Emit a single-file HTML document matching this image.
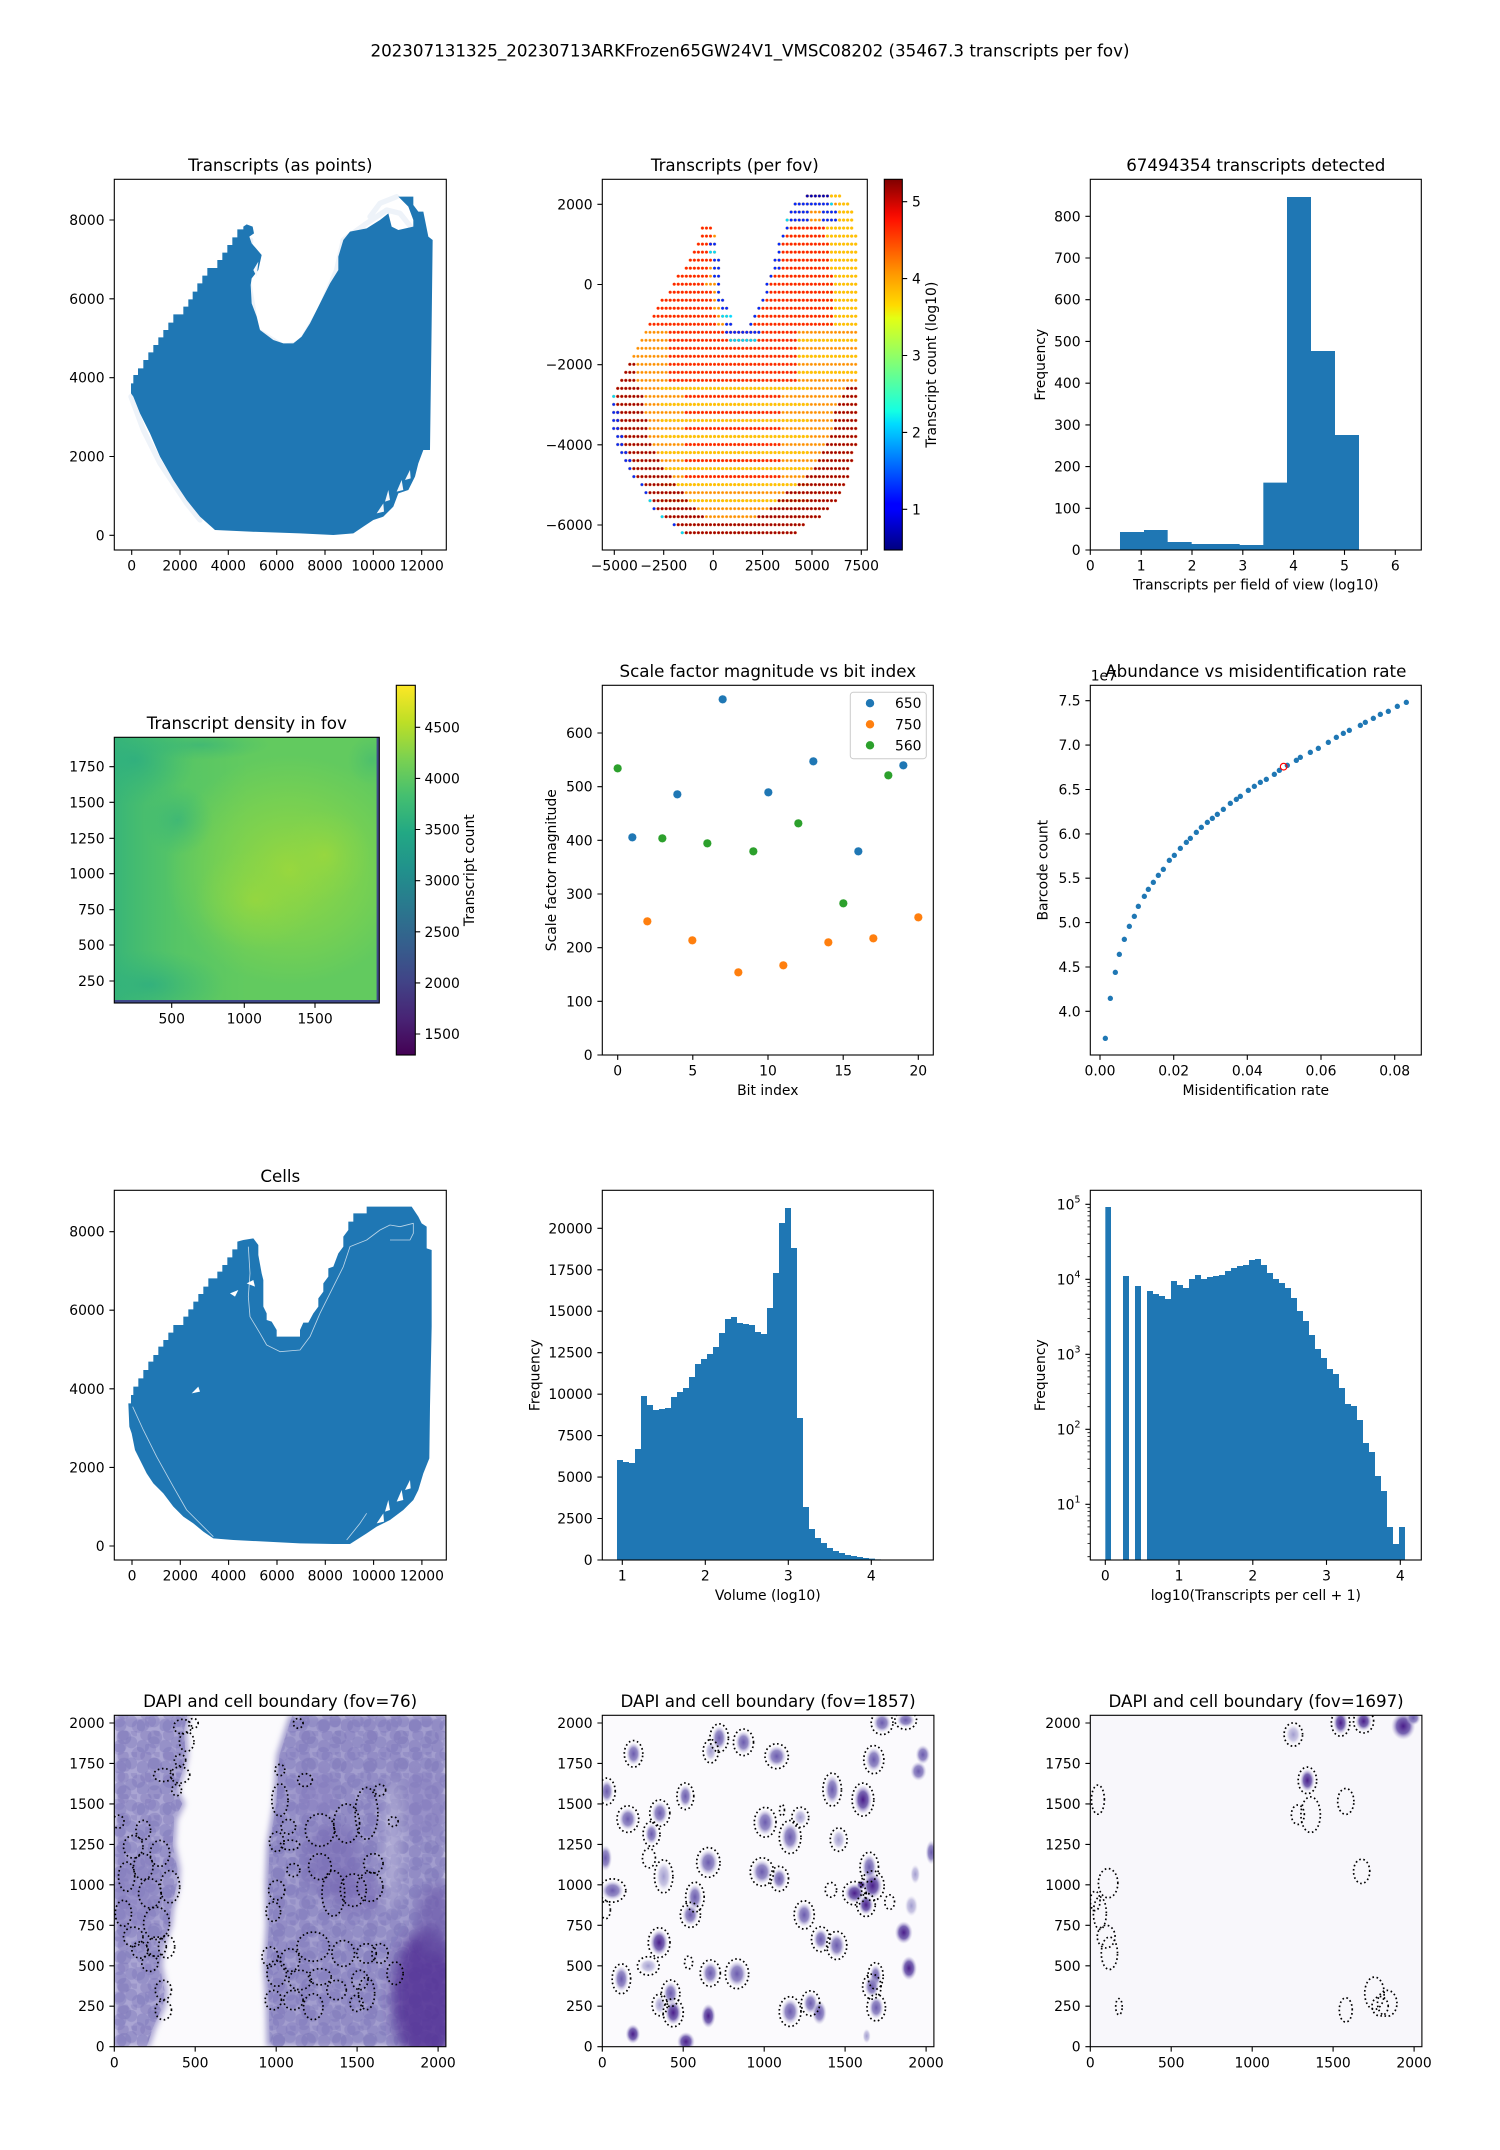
<!DOCTYPE html>
<html><head><meta charset="utf-8">
<style>
html,body{margin:0;padding:0;background:#fff}
svg{display:block}
text{font-family:"DejaVu Sans","Liberation Sans",sans-serif;fill:#000}
.tk{font-size:13.9px}
.xt{text-anchor:middle}
.yt{text-anchor:end}
.ti{font-size:16.7px;text-anchor:middle}
.lab{font-size:13.9px;text-anchor:middle}
.tm{stroke:#000;stroke-width:1.1;fill:none}
.tn{stroke:#000;stroke-width:0.8;fill:none}
.fr{fill:none;stroke:#000;stroke-width:1.1}
.po{fill:url(#pO)}.py{fill:url(#pY)}.py2{fill:url(#pY2)}.pr{fill:url(#pR)}.pr2{fill:url(#pR2)}
.pd{fill:url(#pD)}.pb{fill:url(#pB)}.pc{fill:url(#pC)}.pdb{fill:url(#pDB)}
.db{fill:none;stroke:#000;stroke-width:10.5;stroke-dasharray:10 16}
</style></head><body>
<svg width="1500" height="2150" viewBox="0 0 1500 2150" xmlns="http://www.w3.org/2000/svg">
<defs>
<pattern id="pO" patternUnits="userSpaceOnUse" x="-0.5" y="-0.5" width="1" height="1"><ellipse cx="0.5" cy="0.5" rx="0.36" ry="0.18" fill="#ff9000"/></pattern>
<pattern id="pY" patternUnits="userSpaceOnUse" x="-0.5" y="-0.5" width="1" height="1"><ellipse cx="0.5" cy="0.5" rx="0.36" ry="0.18" fill="#ffc400"/></pattern>
<pattern id="pY2" patternUnits="userSpaceOnUse" x="-0.5" y="-0.5" width="1" height="2"><ellipse cx="0.5" cy="0.5" rx="0.36" ry="0.18" fill="#ffc400"/></pattern>
<pattern id="pR" patternUnits="userSpaceOnUse" x="-0.5" y="-0.5" width="1" height="1"><ellipse cx="0.5" cy="0.5" rx="0.36" ry="0.18" fill="#ff2400"/></pattern>
<pattern id="pR2" patternUnits="userSpaceOnUse" x="-0.5" y="0.5" width="1" height="2"><ellipse cx="0.5" cy="0.5" rx="0.36" ry="0.18" fill="#ff2400"/></pattern>
<pattern id="pD" patternUnits="userSpaceOnUse" x="-0.5" y="-0.5" width="1" height="1"><ellipse cx="0.5" cy="0.5" rx="0.36" ry="0.18" fill="#a00000"/></pattern>
<pattern id="pB" patternUnits="userSpaceOnUse" x="-0.5" y="-0.5" width="1" height="1"><ellipse cx="0.5" cy="0.5" rx="0.36" ry="0.18" fill="#0028ff"/></pattern>
<pattern id="pC" patternUnits="userSpaceOnUse" x="-0.5" y="-0.5" width="1" height="1"><ellipse cx="0.5" cy="0.5" rx="0.36" ry="0.18" fill="#00d8ff"/></pattern>
<pattern id="pDB" patternUnits="userSpaceOnUse" x="-0.5" y="-0.5" width="1" height="1"><ellipse cx="0.5" cy="0.5" rx="0.36" ry="0.18" fill="#0000b4"/></pattern>
<linearGradient id="jet" x1="0" y1="1" x2="0" y2="0">
<stop offset="0" stop-color="#000080"/><stop offset="0.11" stop-color="#0000ff"/><stop offset="0.125" stop-color="#0000ff"/>
<stop offset="0.34" stop-color="#00dbff"/><stop offset="0.375" stop-color="#14ffe3"/><stop offset="0.5" stop-color="#7dff7a"/>
<stop offset="0.625" stop-color="#e3ff14"/><stop offset="0.66" stop-color="#ffdb00"/><stop offset="0.75" stop-color="#ff9400"/>
<stop offset="0.89" stop-color="#ff1300"/><stop offset="0.91" stop-color="#f10800"/><stop offset="1" stop-color="#800000"/>
</linearGradient>
<linearGradient id="vir" x1="0" y1="1" x2="0" y2="0">
<stop offset="0" stop-color="#440154"/><stop offset="0.1" stop-color="#482475"/><stop offset="0.2" stop-color="#414487"/>
<stop offset="0.3" stop-color="#355f8d"/><stop offset="0.4" stop-color="#2a788e"/><stop offset="0.5" stop-color="#21918c"/>
<stop offset="0.6" stop-color="#22a884"/><stop offset="0.7" stop-color="#44bf70"/><stop offset="0.8" stop-color="#7ad151"/>
<stop offset="0.9" stop-color="#bddf26"/><stop offset="1" stop-color="#fde725"/>
</linearGradient>
<linearGradient id="hL" x1="0" y1="0" x2="1" y2="0">
<stop offset="0" stop-color="#2aae80" stop-opacity="0.75"/><stop offset="0.25" stop-color="#3dba74" stop-opacity="0.3"/><stop offset="0.5" stop-color="#3dba74" stop-opacity="0"/>
</linearGradient>
<radialGradient id="hY"><stop offset="0" stop-color="#a8db34" stop-opacity="0.8"/><stop offset="0.6" stop-color="#90d743" stop-opacity="0.45"/><stop offset="1" stop-color="#8fd744" stop-opacity="0"/></radialGradient>
<radialGradient id="hT"><stop offset="0" stop-color="#29ab83" stop-opacity="0.7"/><stop offset="1" stop-color="#2fb47c" stop-opacity="0"/></radialGradient>
<radialGradient id="gB"><stop offset="0" stop-color="#6b5bae"/><stop offset="0.55" stop-color="#8a80c0" stop-opacity="0.9"/><stop offset="1" stop-color="#cdc9e5" stop-opacity="0"/></radialGradient>
<radialGradient id="gD"><stop offset="0" stop-color="#4a1d8a"/><stop offset="0.55" stop-color="#6a55aa" stop-opacity="0.9"/><stop offset="1" stop-color="#bdb7dd" stop-opacity="0"/></radialGradient>
<radialGradient id="gL"><stop offset="0" stop-color="#a19ccf"/><stop offset="0.6" stop-color="#bdb9dd" stop-opacity="0.8"/><stop offset="1" stop-color="#e0def0" stop-opacity="0"/></radialGradient>
<pattern id="bl" patternUnits="userSpaceOnUse" width="140" height="130">
<circle cx="35" cy="35" r="40" fill="#7e77ba" fill-opacity="0.45"/><circle cx="105" cy="60" r="37" fill="#7e77ba" fill-opacity="0.4"/>
<circle cx="55" cy="105" r="35" fill="#7e77ba" fill-opacity="0.42"/><circle cx="130" cy="125" r="28" fill="#7e77ba" fill-opacity="0.35"/>
</pattern>
<pattern id="bl2" patternUnits="userSpaceOnUse" width="190" height="170">
<circle cx="60" cy="40" r="45" fill="#6f67b2" fill-opacity="0.3"/><circle cx="150" cy="110" r="42" fill="#6f67b2" fill-opacity="0.28"/>
<circle cx="30" cy="140" r="38" fill="#6f67b2" fill-opacity="0.25"/>
</pattern>
<filter id="soft" x="-10%" y="-10%" width="120%" height="120%"><feGaussianBlur stdDeviation="18"/></filter>
<filter id="soft2" x="-30%" y="-30%" width="160%" height="160%"><feGaussianBlur stdDeviation="40"/></filter>
<clipPath id="cD"><rect x="0" y="0" width="2048" height="2048"/></clipPath>
<clipPath id="cH"><rect x="114.3" y="737.3" width="265" height="265.7"/></clipPath>
</defs>
<rect width="1500" height="2150" fill="#fff"/>

<!-- suptitle -->
<text x="750" y="56.5" class="ti">202307131325_20230713ARKFrozen65GW24V1_VMSC08202 (35467.3 transcripts per fov)</text>

<!-- ===== AX1 Transcripts (as points) ===== -->
<g transform="translate(0,130) scale(0.33333)">
<path d="M752,330 L745,450 L770,600 L850,650 L900,640 L960,540 L1010,420 L1030,330 L1100,280 L1160,240 L1200,250 L1240,300 M393,800 L430,900 L480,1000 L560,1120 L600,1170 M1110,260 L1140,220 L1190,200" fill="none" stroke="#eef3f9" stroke-width="16" stroke-linecap="round" stroke-linejoin="round"/>
<path fill="#1f77b4" d="M393,790 L393,760 L400,760 L400,735 L414,735 L414,715 L430,715 L430,690 L445,690 L445,667 L460,667 L460,645 L475,645 L475,622 L490,622 L490,600 L505,600 L505,578 L520,578 L520,553 L550,553 L550,530 L565,530 L565,508 L578,508 L578,485 L592,485 L592,460 L607,460 L607,437 L622,437 L622,414 L652,414 L652,390 L667,390 L667,368 L682,368 L682,345 L697,345 L697,322 L712,322 L712,298 L730,298 L730,290 L740,283 L758,290 L762,310 L748,320 L755,340 L785,375 L775,420 L755,445 L752,465 L755,520 L770,560 L780,600 L820,630 L850,640 L880,640 L905,620 L930,580 L960,520 L990,460 L1015,420 L1015,380 L1030,330 L1050,305 L1100,295 L1140,270 L1165,250 L1175,290 L1195,300 L1240,290 L1240,270 L1225,230 L1195,200 L1240,200 L1240,225 L1255,245 L1270,245 L1285,320 L1298,330 L1295,580 L1290,960 L1270,960 L1255,1000 L1245,1040 L1225,1080 L1195,1090 L1180,1130 L1150,1160 L1120,1170 L1090,1190 L1060,1210 L1000,1215 L900,1210 L750,1205 L645,1200 L600,1160 L560,1110 L520,1050 L480,980 L450,910 L420,850 L400,800 Z"/>
<path fill="#f4f7fb" d="M1130,1150 L1150,1120 L1152,1145 Z M1155,1115 L1165,1080 L1170,1110 Z M1190,1085 L1205,1050 L1210,1080 Z M1215,1050 L1230,1020 L1232,1045 Z M760,420 L775,395 L770,440 Z"/>
</g>
<rect x="114.3" y="179.3" width="332" height="370.7" class="fr"/>
<path class="tm" d="M131.7,550v4.9M180,550v4.9M228.3,550v4.9M276.7,550v4.9M325,550v4.9M373.3,550v4.9M421.7,550v4.9M114.3,535.3h-4.9M114.3,456.5h-4.9M114.3,377.7h-4.9M114.3,298.8h-4.9M114.3,220h-4.9"/>
<g class="tk xt"><text x="131.7" y="570.7">0</text><text x="180" y="570.7">2000</text><text x="228.3" y="570.7">4000</text><text x="276.7" y="570.7">6000</text><text x="325" y="570.7">8000</text><text x="373.3" y="570.7">10000</text><text x="421.7" y="570.7">12000</text></g>
<g class="tk yt"><text x="104.6" y="540.3">0</text><text x="104.6" y="461.5">2000</text><text x="104.6" y="382.7">4000</text><text x="104.6" y="303.8">6000</text><text x="104.6" y="225">8000</text></g>
<text x="280.3" y="171" class="ti">Transcripts (as points)</text>

<!-- ===== AX2 Transcripts per fov ===== -->
<g transform="translate(613.7,196) scale(4.033,8.017)">
<g class="po">
<rect x="47.5" y="-0.5" width="9" height="1"/>
<rect x="44.5" y="0.5" width="14" height="1"/>
<rect x="43.5" y="1.5" width="16" height="1"/>
<rect x="42.5" y="2.5" width="17" height="1"/>
<rect x="21.5" y="3.5" width="3" height="1"/><rect x="42.5" y="3.5" width="17" height="1"/>
<rect x="21.5" y="4.5" width="4" height="1"/><rect x="41.5" y="4.5" width="19" height="1"/>
<rect x="20.5" y="5.5" width="5" height="1"/><rect x="40.5" y="5.5" width="20" height="1"/>
<rect x="19.5" y="6.5" width="6" height="1"/><rect x="40.5" y="6.5" width="20" height="1"/>
<rect x="18.5" y="7.5" width="8" height="1"/><rect x="39.5" y="7.5" width="21" height="1"/>
<rect x="17.5" y="8.5" width="9" height="1"/><rect x="39.5" y="8.5" width="21" height="1"/>
<rect x="15.5" y="9.5" width="11" height="1"/><rect x="38.5" y="9.5" width="22" height="1"/>
<rect x="14.5" y="10.5" width="12" height="1"/><rect x="37.5" y="10.5" width="23" height="1"/>
<rect x="13.5" y="11.5" width="13" height="1"/><rect x="37.5" y="11.5" width="23" height="1"/>
<rect x="11.5" y="12.5" width="16" height="1"/><rect x="36.5" y="12.5" width="24" height="1"/>
<rect x="10.5" y="13.5" width="18" height="1"/><rect x="35.5" y="13.5" width="25" height="1"/>
<rect x="9.5" y="14.5" width="19" height="1"/><rect x="34.5" y="14.5" width="26" height="1"/>
<rect x="8.5" y="15.5" width="21" height="1"/><rect x="33.5" y="15.5" width="27" height="1"/>
<rect x="7.5" y="16.5" width="53" height="1"/>
<rect x="6.5" y="17.5" width="54" height="1"/>
<rect x="5.5" y="18.5" width="55" height="1"/>
<rect x="4.5" y="19.5" width="56" height="1"/>
<rect x="3.5" y="20.5" width="57" height="1"/>
<rect x="2.5" y="21.5" width="58" height="1"/>
<rect x="1.5" y="22.5" width="59" height="1"/>
<rect x="0.5" y="23.5" width="60" height="1"/>
<rect x="-0.5" y="24.5" width="61" height="5"/>
<rect x="0.5" y="29.5" width="60" height="2"/>
<rect x="1.5" y="31.5" width="58" height="1"/>
<rect x="2.5" y="32.5" width="57" height="1"/>
<rect x="3.5" y="33.5" width="55" height="1"/>
<rect x="4.5" y="34.5" width="54" height="1"/>
<rect x="6.5" y="35.5" width="51" height="1"/>
<rect x="7.5" y="36.5" width="49" height="1"/>
<rect x="8.5" y="37.5" width="47" height="1"/>
<rect x="9.5" y="38.5" width="44" height="1"/>
<rect x="11.5" y="39.5" width="40" height="1"/>
<rect x="14.5" y="40.5" width="33" height="1"/>
<rect x="16.5" y="41.5" width="29" height="1"/>
</g>
<g class="py">
<rect x="52.5" y="3.5" width="7" height="1"/><rect x="52.5" y="4.5" width="8" height="12"/>
<rect x="53.5" y="-0.5" width="3" height="1"/><rect x="55.5" y="0.5" width="3" height="1"/><rect x="55.5" y="1.5" width="4" height="2"/>
</g>
<g class="py2"><rect x="11.5" y="23.5" width="37" height="16"/><rect x="45.5" y="16.5" width="15" height="7"/></g>
<g class="pr">
<rect x="21.5" y="3.5" width="3" height="1"/><rect x="21.5" y="4.5" width="3" height="1"/><rect x="20.5" y="5.5" width="4" height="1"/>
<rect x="19.5" y="6.5" width="4" height="1"/><rect x="18.5" y="7.5" width="6" height="1"/><rect x="17.5" y="8.5" width="6" height="1"/>
<rect x="15.5" y="9.5" width="8" height="1"/><rect x="14.5" y="10.5" width="8" height="1"/><rect x="13.5" y="11.5" width="11" height="1"/>
<rect x="11.5" y="12.5" width="13" height="1"/><rect x="10.5" y="13.5" width="14" height="1"/><rect x="9.5" y="14.5" width="16" height="1"/>
<rect x="8.5" y="15.5" width="17" height="1"/>
<rect x="43.5" y="3.5" width="9" height="1"/><rect x="42.5" y="4.5" width="10" height="1"/><rect x="41.5" y="5.5" width="12" height="1"/>
<rect x="41.5" y="6.5" width="12" height="1"/><rect x="40.5" y="7.5" width="13" height="1"/><rect x="40.5" y="8.5" width="13" height="1"/>
<rect x="39.5" y="9.5" width="15" height="1"/><rect x="38.5" y="10.5" width="16" height="1"/><rect x="38.5" y="11.5" width="16" height="1"/>
<rect x="37.5" y="12.5" width="17" height="1"/><rect x="36.5" y="13.5" width="18" height="1"/><rect x="35.5" y="14.5" width="19" height="1"/>
<rect x="34.5" y="15.5" width="20" height="1"/>
<rect x="13.5" y="16.5" width="32" height="7"/>
</g>
<g class="pr2"><rect x="17.5" y="24.5" width="24" height="12"/></g>
<g class="pd">
<rect x="3.5" y="20.5" width="2" height="1"/><rect x="2.5" y="21.5" width="3" height="1"/><rect x="1.5" y="22.5" width="4" height="1"/>
<rect x="0.5" y="23.5" width="6" height="1"/><rect x="0.5" y="24.5" width="7" height="3"/><rect x="0.5" y="27.5" width="8" height="2"/>
<rect x="1.5" y="29.5" width="7" height="1"/><rect x="1.5" y="30.5" width="8" height="1"/><rect x="2.5" y="31.5" width="8" height="1"/>
<rect x="3.5" y="32.5" width="8" height="1"/><rect x="4.5" y="33.5" width="8" height="1"/><rect x="5.5" y="34.5" width="9" height="1"/>
<rect x="7.5" y="35.5" width="8" height="1"/><rect x="8.5" y="36.5" width="9" height="1"/><rect x="9.5" y="37.5" width="9" height="1"/>
<rect x="10.5" y="38.5" width="10" height="1"/><rect x="12.5" y="39.5" width="10" height="1"/><rect x="15.5" y="40.5" width="17" height="1"/>
<rect x="17.5" y="41.5" width="28" height="1"/>
<rect x="57.5" y="23.5" width="3" height="1"/><rect x="56.5" y="24.5" width="4" height="1"/><rect x="55.5" y="25.5" width="5" height="1"/>
<rect x="54.5" y="26.5" width="6" height="3"/><rect x="53.5" y="29.5" width="7" height="1"/><rect x="52.5" y="30.5" width="8" height="1"/>
<rect x="51.5" y="31.5" width="8" height="1"/><rect x="50.5" y="32.5" width="9" height="1"/><rect x="49.5" y="33.5" width="9" height="1"/>
<rect x="47.5" y="34.5" width="11" height="1"/><rect x="45.5" y="35.5" width="12" height="1"/><rect x="42.5" y="36.5" width="14" height="1"/>
<rect x="40.5" y="37.5" width="15" height="1"/><rect x="38.5" y="38.5" width="15" height="1"/><rect x="35.5" y="39.5" width="16" height="1"/>
<rect x="32.5" y="40.5" width="15" height="1"/>
</g>
<g class="pb">
<rect x="-0.5" y="25.5" width="1" height="1"/><rect x="-0.5" y="26.5" width="2" height="3"/><rect x="0.5" y="29.5" width="2" height="2"/>
<rect x="1.5" y="31.5" width="2" height="1"/><rect x="2.5" y="32.5" width="2" height="1"/><rect x="3.5" y="33.5" width="1" height="1"/>
<rect x="4.5" y="34.5" width="1" height="1"/><rect x="6.5" y="35.5" width="1" height="1"/><rect x="7.5" y="36.5" width="1" height="1"/>
<rect x="9.5" y="38.5" width="1" height="1"/><rect x="14.5" y="40.5" width="1" height="1"/>
<rect x="42.5" y="3.5" width="1" height="1"/><rect x="41.5" y="4.5" width="1" height="1"/><rect x="40.5" y="5.5" width="1" height="2"/>
<rect x="39.5" y="7.5" width="2" height="2"/><rect x="38.5" y="9.5" width="1" height="1"/><rect x="37.5" y="10.5" width="1" height="2"/>
<rect x="36.5" y="12.5" width="1" height="1"/><rect x="35.5" y="13.5" width="1" height="1"/><rect x="34.5" y="14.5" width="1" height="1"/>
<rect x="33.5" y="15.5" width="1" height="1"/>
<rect x="23.5" y="5.5" width="2" height="1"/><rect x="24.5" y="7.5" width="2" height="3"/><rect x="25.5" y="10.5" width="1" height="2"/>
<rect x="25.5" y="12.5" width="2" height="1"/><rect x="26.5" y="13.5" width="2" height="1"/><rect x="27.5" y="15.5" width="2" height="1"/>
<rect x="27.5" y="16.5" width="9" height="1"/>
<rect x="44.5" y="0.5" width="9" height="1"/><rect x="43.5" y="1.5" width="5" height="2"/><rect x="51.5" y="1.5" width="4" height="2"/>
</g>
<g class="pc">
<rect x="-0.5" y="24.5" width="1" height="1"/><rect x="8.5" y="37.5" width="1" height="1"/><rect x="11.5" y="39.5" width="1" height="1"/>
<rect x="16.5" y="41.5" width="1" height="1"/><rect x="23.5" y="6.5" width="2" height="1"/><rect x="26.5" y="14.5" width="3" height="1"/>
<rect x="28.5" y="17.5" width="7" height="1"/><rect x="42.5" y="2.5" width="1" height="1"/><rect x="53.5" y="0.5" width="1" height="1"/>
</g>
<g class="pdb"><rect x="47.5" y="-0.5" width="6" height="1"/></g>
</g>
<rect x="602.3" y="179.3" width="265" height="370.7" class="fr"/>
<path class="tm" d="M614.3,550v4.9M663.7,550v4.9M713.3,550v4.9M762.6,550v4.9M812,550v4.9M861.3,550v4.9M602.3,204.3h-4.9M602.3,284.5h-4.9M602.3,364.7h-4.9M602.3,444.8h-4.9M602.3,525h-4.9"/>
<g class="tk xt"><text x="614.3" y="570.7">−5000</text><text x="663.7" y="570.7">−2500</text><text x="713.3" y="570.7">0</text><text x="762.6" y="570.7">2500</text><text x="812" y="570.7">5000</text><text x="861.3" y="570.7">7500</text></g>
<g class="tk yt"><text x="592.6" y="209.3">2000</text><text x="592.6" y="289.5">0</text><text x="592.6" y="369.7">−2000</text><text x="592.6" y="449.8">−4000</text><text x="592.6" y="530">−6000</text></g>
<text x="734.8" y="171" class="ti">Transcripts (per fov)</text>
<rect x="884.3" y="179.3" width="18" height="370.7" fill="url(#jet)"/>
<rect x="884.3" y="179.3" width="18" height="370.7" class="fr"/>
<path class="tm" d="M902.3,201.7h4.9M902.3,278.6h4.9M902.3,355.5h4.9M902.3,432.4h4.9M902.3,509.3h4.9"/>
<g class="tk"><text x="912" y="206.7">5</text><text x="912" y="283.6">4</text><text x="912" y="360.5">3</text><text x="912" y="437.4">2</text><text x="912" y="514.3">1</text></g>
<text class="lab" transform="translate(936,364.7) rotate(-90)">Transcript count (log10)</text>

<!-- ===== AX3 histogram ===== -->
<g transform="translate(1000,130) scale(0.33333)">
<path fill="#1f77b4" d="M360,1260 V1206 H432 V1200 H503 V1236 H575 V1242 H647 V1242 H719 V1245 H790 V1058 H861 V201 H933 V663 H1005 V915 H1077 V1260 Z"/>
</g>
<rect x="1090.3" y="179.3" width="331" height="370.7" class="fr"/>
<path class="tm" d="M1090.3,550v4.9M1141.2,550v4.9M1192,550v4.9M1242.8,550v4.9M1293.6,550v4.9M1344.5,550v4.9M1395.3,550v4.9M1090.3,550h-4.9M1090.3,508.3h-4.9M1090.3,466.6h-4.9M1090.3,424.9h-4.9M1090.3,383.2h-4.9M1090.3,341.4h-4.9M1090.3,299.7h-4.9M1090.3,258h-4.9M1090.3,216.3h-4.9"/>
<g class="tk xt"><text x="1090.3" y="570.7">0</text><text x="1141.2" y="570.7">1</text><text x="1192" y="570.7">2</text><text x="1242.8" y="570.7">3</text><text x="1293.6" y="570.7">4</text><text x="1344.5" y="570.7">5</text><text x="1395.3" y="570.7">6</text></g>
<g class="tk yt"><text x="1080.6" y="555">0</text><text x="1080.6" y="513.3">100</text><text x="1080.6" y="471.6">200</text><text x="1080.6" y="429.9">300</text><text x="1080.6" y="388.2">400</text><text x="1080.6" y="346.4">500</text><text x="1080.6" y="304.7">600</text><text x="1080.6" y="263">700</text><text x="1080.6" y="221.3">800</text></g>
<text x="1255.8" y="171" class="ti">67494354 transcripts detected</text>
<text x="1255.8" y="589.5" class="lab">Transcripts per field of view (log10)</text>
<text class="lab" transform="translate(1045,364.7) rotate(-90)">Frequency</text>

<!-- ===== AX4 heatmap ===== -->
<g clip-path="url(#cH)">
<rect x="114.3" y="737.3" width="265" height="265.7" fill="#62ca5f"/>
<rect x="114.3" y="737.3" width="265" height="265.7" fill="url(#hL)"/>
<ellipse cx="290" cy="870" rx="125" ry="115" fill="url(#hY)"/>
<ellipse cx="255" cy="900" rx="60" ry="50" fill="url(#hY)" opacity="0.6"/>
<ellipse cx="325" cy="855" rx="45" ry="45" fill="url(#hY)" opacity="0.6"/>
<ellipse cx="135" cy="760" rx="60" ry="45" fill="url(#hT)"/>
<ellipse cx="150" cy="985" rx="75" ry="35" fill="url(#hT)"/>
<ellipse cx="178" cy="820" rx="35" ry="35" fill="url(#hT)" opacity="0.7"/>
<ellipse cx="200" cy="745" rx="70" ry="15" fill="url(#hT)" opacity="0.7"/>
<ellipse cx="372" cy="760" rx="25" ry="25" fill="url(#hT)" opacity="0.5"/>
<rect x="114.3" y="1000" width="265" height="3" fill="#3f4889"/>
<rect x="376.6" y="737.3" width="2.7" height="265.7" fill="#3f4889"/>
</g>
<rect x="114.3" y="737.3" width="265" height="265.7" class="fr"/>
<path class="tm" d="M171.7,1003v4.9M244.3,1003v4.9M315,1003v4.9M114.3,981h-4.9M114.3,945h-4.9M114.3,909.7h-4.9M114.3,873.7h-4.9M114.3,838.3h-4.9M114.3,802.3h-4.9M114.3,766.7h-4.9"/>
<g class="tk xt"><text x="171.7" y="1023.7">500</text><text x="244.3" y="1023.7">1000</text><text x="315" y="1023.7">1500</text></g>
<g class="tk yt"><text x="104.6" y="986">250</text><text x="104.6" y="950">500</text><text x="104.6" y="914.7">750</text><text x="104.6" y="878.7">1000</text><text x="104.6" y="843.3">1250</text><text x="104.6" y="807.3">1500</text><text x="104.6" y="771.7">1750</text></g>
<text x="246.8" y="729" class="ti">Transcript density in fov</text>
<rect x="396.3" y="685.3" width="19" height="369.7" fill="url(#vir)"/>
<rect x="396.3" y="685.3" width="19" height="369.7" class="fr"/>
<path class="tm" d="M415.3,1034h4.9M415.3,982.9h4.9M415.3,931.8h4.9M415.3,880.7h4.9M415.3,829.5h4.9M415.3,778.4h4.9M415.3,727.3h4.9"/>
<g class="tk"><text x="424.5" y="1039">1500</text><text x="424.5" y="987.9">2000</text><text x="424.5" y="936.8">2500</text><text x="424.5" y="885.7">3000</text><text x="424.5" y="834.5">3500</text><text x="424.5" y="783.4">4000</text><text x="424.5" y="732.3">4500</text></g>
<text class="lab" transform="translate(474,870.2) rotate(-90)">Transcript count</text>

<!-- ===== AX5 scale factor scatter ===== -->
<rect x="602.3" y="685.3" width="331" height="369.7" class="fr"/>
<g transform="translate(500,620) scale(0.33333)" stroke="#fff" stroke-width="1.5">
<g fill="#2ca02c"><circle cx="353" cy="445" r="13"/><circle cx="487" cy="655" r="13"/><circle cx="622" cy="670" r="13"/><circle cx="760" cy="694" r="13"/><circle cx="895" cy="610" r="13"/><circle cx="1030" cy="850" r="13"/><circle cx="1165" cy="466" r="13"/></g>
<g fill="#1f77b4"><circle cx="397" cy="652" r="13"/><circle cx="532" cy="523" r="13"/><circle cx="668" cy="238" r="13"/><circle cx="805" cy="517" r="13"/><circle cx="940" cy="424" r="13"/><circle cx="1075" cy="694" r="13"/><circle cx="1210" cy="436" r="13"/></g>
<g fill="#ff7f0e"><circle cx="442" cy="904" r="13"/><circle cx="577" cy="961" r="13"/><circle cx="715" cy="1057" r="13"/><circle cx="850" cy="1036" r="13"/><circle cx="985" cy="967" r="13"/><circle cx="1120" cy="955" r="13"/><circle cx="1255" cy="892" r="13"/></g>
</g>
<rect x="850.3" y="692.3" width="76" height="66.4" rx="3" fill="#fff" fill-opacity="0.8" stroke="#cccccc" stroke-width="1"/>
<circle cx="870" cy="703.2" r="4.2" fill="#1f77b4"/><circle cx="870" cy="724.3" r="4.2" fill="#ff7f0e"/><circle cx="870" cy="745.3" r="4.2" fill="#2ca02c"/>
<g class="tk"><text x="895" y="708.2">650</text><text x="895" y="729.3">750</text><text x="895" y="750.3">560</text></g>
<path class="tm" d="M617.7,1055v4.9M692.8,1055v4.9M768,1055v4.9M843.2,1055v4.9M918.3,1055v4.9M602.3,1055h-4.9M602.3,1001.3h-4.9M602.3,947.7h-4.9M602.3,894h-4.9M602.3,840.3h-4.9M602.3,786.7h-4.9M602.3,733h-4.9"/>
<g class="tk xt"><text x="617.7" y="1075.7">0</text><text x="692.8" y="1075.7">5</text><text x="768" y="1075.7">10</text><text x="843.2" y="1075.7">15</text><text x="918.3" y="1075.7">20</text></g>
<g class="tk yt"><text x="592.6" y="1060">0</text><text x="592.6" y="1006.3">100</text><text x="592.6" y="952.7">200</text><text x="592.6" y="899">300</text><text x="592.6" y="845.3">400</text><text x="592.6" y="791.7">500</text><text x="592.6" y="738">600</text></g>
<text x="767.8" y="677" class="ti">Scale factor magnitude vs bit index</text>
<text x="767.8" y="1095" class="lab">Bit index</text>
<text class="lab" transform="translate(555.8,870.2) rotate(-90)">Scale factor magnitude</text>

<!-- ===== AX6 abundance ===== -->
<rect x="1090.3" y="685.3" width="331" height="369.7" class="fr"/>
<g transform="translate(1000,620) scale(0.33333)">
<g fill="#1f77b4">
<circle cx="316" cy="1255" r="8"/><circle cx="331" cy="1135" r="8"/><circle cx="346" cy="1057" r="8"/><circle cx="358" cy="1003" r="8"/><circle cx="373" cy="958" r="8"/><circle cx="388" cy="919" r="8"/><circle cx="403" cy="889" r="8"/><circle cx="415" cy="859" r="8"/><circle cx="433" cy="829" r="8"/><circle cx="445" cy="808" r="8"/>
<circle cx="460" cy="787" r="8"/><circle cx="475" cy="766" r="8"/><circle cx="490" cy="748" r="8"/><circle cx="508" cy="721" r="8"/><circle cx="523" cy="706" r="8"/><circle cx="541" cy="685" r="8"/><circle cx="559" cy="667" r="8"/><circle cx="571" cy="655" r="8"/><circle cx="589" cy="637" r="8"/><circle cx="604" cy="622" r="8"/>
<circle cx="622" cy="607" r="8"/><circle cx="637" cy="595" r="8"/><circle cx="652" cy="583" r="8"/><circle cx="670" cy="568" r="8"/><circle cx="691" cy="550" r="8"/><circle cx="709" cy="538" r="8"/><circle cx="721" cy="529" r="8"/><circle cx="745" cy="511" r="8"/><circle cx="763" cy="499" r="8"/><circle cx="781" cy="487" r="8"/>
<circle cx="799" cy="478" r="8"/><circle cx="823" cy="463" r="8"/><circle cx="838" cy="451" r="8"/><circle cx="862" cy="436" r="8"/><circle cx="889" cy="421" r="8"/><circle cx="901" cy="412" r="8"/><circle cx="931" cy="397" r="8"/><circle cx="955" cy="385" r="8"/><circle cx="985" cy="367" r="8"/><circle cx="1009" cy="352" r="8"/>
<circle cx="1030" cy="340" r="8"/><circle cx="1048" cy="331" r="8"/><circle cx="1081" cy="316" r="8"/><circle cx="1096" cy="307" r="8"/><circle cx="1120" cy="295" r="8"/><circle cx="1141" cy="283" r="8"/><circle cx="1165" cy="274" r="8"/><circle cx="1192" cy="259" r="8"/><circle cx="1219" cy="247" r="8"/>
</g>
<circle cx="851" cy="440" r="10" fill="none" stroke="#ff0000" stroke-width="3.5"/>
</g>
<path class="tm" d="M1100,1055v4.9M1173.7,1055v4.9M1247.3,1055v4.9M1321,1055v4.9M1394.7,1055v4.9M1090.3,1011.3h-4.9M1090.3,967h-4.9M1090.3,922.6h-4.9M1090.3,878.2h-4.9M1090.3,833.9h-4.9M1090.3,789.5h-4.9M1090.3,745.1h-4.9M1090.3,700.7h-4.9"/>
<g class="tk xt"><text x="1100" y="1075.7">0.00</text><text x="1173.7" y="1075.7">0.02</text><text x="1247.3" y="1075.7">0.04</text><text x="1321" y="1075.7">0.06</text><text x="1394.7" y="1075.7">0.08</text></g>
<g class="tk yt"><text x="1080.6" y="1016.3">4.0</text><text x="1080.6" y="972">4.5</text><text x="1080.6" y="927.6">5.0</text><text x="1080.6" y="883.2">5.5</text><text x="1080.6" y="838.9">6.0</text><text x="1080.6" y="794.5">6.5</text><text x="1080.6" y="750.1">7.0</text><text x="1080.6" y="705.7">7.5</text></g>
<text x="1090.7" y="680.7" class="tk">1e7</text>
<text x="1255.8" y="677" class="ti">Abundance vs misidentification rate</text>
<text x="1255.8" y="1095" class="lab">Misidentification rate</text>
<text class="lab" transform="translate(1047.4,870.2) rotate(-90)">Barcode count</text>

<!-- ===== AX7 Cells ===== -->
<g transform="translate(0,1140) scale(0.33333)">
<path fill="#1f77b4" d="M388,860 L385,790 L393,790 L393,765 L400,765 L400,740 L415,740 L415,715 L430,715 L430,690 L445,690 L445,665 L460,665 L460,645 L475,645 L475,620 L490,620 L490,600 L505,600 L505,578 L520,578 L520,555 L550,555 L550,530 L565,530 L565,508 L580,508 L580,485 L595,485 L595,462 L610,462 L610,440 L625,440 L625,415 L652,415 L652,395 L667,395 L667,375 L682,375 L682,352 L697,352 L697,328 L712,328 L712,305 L730,300 L760,295 L775,315 L775,345 L785,400 L790,420 L790,500 L800,520 L800,540 L815,545 L830,570 L830,590 L900,590 L900,570 L910,548 L925,548 L940,520 L955,500 L955,475 L970,455 L970,430 L985,410 L985,385 L1000,380 L1015,340 L1030,320 L1030,290 L1045,270 L1045,245 L1060,245 L1060,220 L1100,220 L1100,200 L1235,200 L1255,230 L1265,250 L1280,260 L1280,325 L1295,330 L1295,560 L1290,800 L1288,955 L1270,1000 L1255,1050 L1240,1080 L1210,1110 L1170,1140 L1130,1160 L1100,1180 L1050,1212 L1000,1212 L900,1210 L700,1200 L640,1195 L610,1175 L580,1150 L550,1130 L520,1100 L490,1060 L460,1030 L440,1000 L420,960 L405,930 L395,880 Z"/>
<path fill="none" stroke="#ffffff" stroke-opacity="0.7" stroke-width="2.5" stroke-linejoin="round" d="M398,800 L430,870 L470,950 L520,1040 L560,1110 L610,1160 L640,1190 M745,320 L750,400 L745,470 L750,530 L780,580 L800,615 L840,635 L900,630 L930,590 L960,520 L1000,440 L1030,380 L1050,320 L1100,300 L1140,270 L1170,255 L1200,260 L1240,250 L1240,280 L1230,300 L1170,300 M1040,1200 L1080,1150 L1100,1120"/>
<path fill="#fff" d="M1130,1150 L1150,1120 L1152,1145 Z M1155,1115 L1165,1080 L1170,1110 Z M1190,1085 L1205,1050 L1210,1080 Z M1215,1050 L1230,1020 L1232,1045 Z M690,460 L715,450 L705,470 Z M740,430 L760,420 L765,440 Z M575,760 L595,740 L600,755 Z"/>
</g>
<rect x="114.3" y="1190.3" width="332" height="369.7" class="fr"/>
<path class="tm" d="M132,1560v4.9M180.3,1560v4.9M228.6,1560v4.9M277,1560v4.9M325.3,1560v4.9M373.6,1560v4.9M421.9,1560v4.9M114.3,1546h-4.9M114.3,1467.4h-4.9M114.3,1388.8h-4.9M114.3,1310.2h-4.9M114.3,1231.7h-4.9"/>
<g class="tk xt"><text x="132" y="1580.7">0</text><text x="180.3" y="1580.7">2000</text><text x="228.6" y="1580.7">4000</text><text x="277" y="1580.7">6000</text><text x="325.3" y="1580.7">8000</text><text x="373.6" y="1580.7">10000</text><text x="421.9" y="1580.7">12000</text></g>
<g class="tk yt"><text x="104.6" y="1551">0</text><text x="104.6" y="1472.4">2000</text><text x="104.6" y="1393.8">4000</text><text x="104.6" y="1315.2">6000</text><text x="104.6" y="1236.7">8000</text></g>
<text x="280.3" y="1182" class="ti">Cells</text>

<!-- ===== AX8 volume histogram ===== -->
<g transform="translate(500,1140) scale(0.33333)">
<path fill="#1f77b4" d="M351,1260 V960 H369 V966 H387 V969 H405 V927 H423 V768 H441 V795 H459 V810 H477 V807 H495 V804 H513 V771 H531 V756 H549 V744 H567 V711 H585 V672 H603 V657 H621 V642 H639 V621 H657 V579 H675 V537 H693 V531 H711 V549 H729 V552 H747 V555 H765 V576 H783 V582 H801 V504 H819 V399 H837 V249 H855 V204 H873 V324 H891 V834 H909 V1101 H927 V1167 H945 V1194 H963 V1209 H981 V1224 H999 V1233 H1017 V1239 H1035 V1245 H1053 V1248 H1071 V1251 H1089 V1254 H1107 V1256 H1125 V1258 H1143 V1260 Z"/>
</g>
<rect x="602.3" y="1190.3" width="331" height="369.7" class="fr"/>
<path class="tm" d="M622.3,1560v4.9M705.3,1560v4.9M788.3,1560v4.9M871.3,1560v4.9M602.3,1560h-4.9M602.3,1518.5h-4.9M602.3,1477.1h-4.9M602.3,1435.6h-4.9M602.3,1394.2h-4.9M602.3,1352.7h-4.9M602.3,1311.2h-4.9M602.3,1269.8h-4.9M602.3,1228.3h-4.9"/>
<g class="tk xt"><text x="622.3" y="1580.7">1</text><text x="705.3" y="1580.7">2</text><text x="788.3" y="1580.7">3</text><text x="871.3" y="1580.7">4</text></g>
<g class="tk yt"><text x="592.6" y="1565">0</text><text x="592.6" y="1523.5">2500</text><text x="592.6" y="1482.1">5000</text><text x="592.6" y="1440.6">7500</text><text x="592.6" y="1399.2">10000</text><text x="592.6" y="1357.7">12500</text><text x="592.6" y="1316.2">15000</text><text x="592.6" y="1274.8">17500</text><text x="592.6" y="1233.3">20000</text></g>
<text x="767.8" y="1600" class="lab">Volume (log10)</text>
<text class="lab" transform="translate(539.4,1375.2) rotate(-90)">Frequency</text>

<!-- ===== AX9 log histogram ===== -->
<g transform="translate(1000,1140) scale(0.33333)">
<path fill="#1f77b4" d="M316,1260 V201 H333 V1260 Z M369,1260 V408 H387 V1260 Z M405,1260 V438 H423 V1260 Z M441,1260 V453 H459 V462 H477 V468 H495 V477 H513 V423 H531 V435 H549 V444 H567 V417 H585 V405 H603 V417 H621 V411 H639 V408 H657 V405 H675 V393 H693 V384 H711 V378 H729 V375 H747 V360 H765 V357 H783 V375 H801 V399 H819 V417 H837 V429 H855 V444 H873 V474 H891 V513 H909 V543 H927 V585 H945 V627 H963 V654 H981 V687 H999 V702 H1017 V744 H1035 V792 H1053 V798 H1071 V840 H1089 V909 H1107 V936 H1125 V1008 H1143 V1053 H1161 V1161 H1179 V1212 H1197 V1161 H1215 V1260 Z"/>
</g>
<rect x="1090.3" y="1190.3" width="331" height="369.7" class="fr"/>
<path class="tm" d="M1105.3,1560v4.9M1179,1560v4.9M1252.8,1560v4.9M1326.5,1560v4.9M1400.3,1560v4.9M1090.3,1204.3h-4.9M1090.3,1279.3h-4.9M1090.3,1354.3h-4.9M1090.3,1429.3h-4.9M1090.3,1504.3h-4.9"/>
<path class="tn" d="M1090.3,1556.7h-2.8M1090.3,1543.5h-2.8M1090.3,1534.1h-2.8M1090.3,1526.9h-2.8M1090.3,1520.9h-2.8M1090.3,1515.9h-2.8M1090.3,1511.6h-2.8M1090.3,1507.7h-2.8M1090.3,1481.7h-2.8M1090.3,1468.5h-2.8M1090.3,1459.1h-2.8M1090.3,1451.9h-2.8M1090.3,1445.9h-2.8M1090.3,1440.9h-2.8M1090.3,1436.6h-2.8M1090.3,1432.7h-2.8M1090.3,1406.7h-2.8M1090.3,1393.5h-2.8M1090.3,1384.1h-2.8M1090.3,1376.9h-2.8M1090.3,1370.9h-2.8M1090.3,1365.9h-2.8M1090.3,1361.6h-2.8M1090.3,1357.7h-2.8M1090.3,1331.7h-2.8M1090.3,1318.5h-2.8M1090.3,1309.1h-2.8M1090.3,1301.9h-2.8M1090.3,1295.9h-2.8M1090.3,1290.9h-2.8M1090.3,1286.6h-2.8M1090.3,1282.7h-2.8M1090.3,1256.7h-2.8M1090.3,1243.5h-2.8M1090.3,1234.1h-2.8M1090.3,1226.9h-2.8M1090.3,1220.9h-2.8M1090.3,1215.9h-2.8M1090.3,1211.6h-2.8M1090.3,1207.7h-2.8"/>
<g class="tk xt"><text x="1105.3" y="1580.7">0</text><text x="1179" y="1580.7">1</text><text x="1252.8" y="1580.7">2</text><text x="1326.5" y="1580.7">3</text><text x="1400.3" y="1580.7">4</text></g>
<g class="tk yt">
<text x="1080.6" y="1209.3">10<tspan dy="-7" font-size="9.7">5</tspan></text>
<text x="1080.6" y="1284.3">10<tspan dy="-7" font-size="9.7">4</tspan></text>
<text x="1080.6" y="1359.3">10<tspan dy="-7" font-size="9.7">3</tspan></text>
<text x="1080.6" y="1434.3">10<tspan dy="-7" font-size="9.7">2</tspan></text>
<text x="1080.6" y="1509.3">10<tspan dy="-7" font-size="9.7">1</tspan></text>
</g>
<text x="1255.8" y="1600" class="lab">log10(Transcripts per cell + 1)</text>
<text class="lab" transform="translate(1045,1375.2) rotate(-90)">Frequency</text>

<!-- ===== AX10 DAPI fov=76 ===== -->
<g transform="translate(114.3,2046.7) scale(0.1619,-0.1619)">
<g clip-path="url(#cD)">
<rect x="0" y="0" width="2048" height="2048" fill="#fbfafd"/>
<g filter="url(#soft)">
<polygon points="0,0 0,2048 470,2048 450,1950 460,1800 440,1700 400,1580 440,1500 390,1400 380,1250 410,1100 405,1000 370,850 360,750 310,600 300,500 330,350 320,250 260,120 220,0" fill="#aaa5d3"/>
<polygon points="1080,2048 1000,1800 980,1500 940,1250 930,1000 935,750 920,500 935,250 940,0 2048,0 2048,2048" fill="#a29dce"/>
</g>
<polygon points="0,0 0,2048 450,2048 430,1950 440,1800 420,1700 380,1580 420,1500 370,1400 360,1250 390,1100 385,1000 350,850 340,750 290,600 280,500 310,350 300,250 240,120 200,0" fill="url(#bl)"/>
<polygon points="0,0 0,2048 450,2048 430,1950 440,1800 420,1700 380,1580 420,1500 370,1400 360,1250 390,1100 385,1000 350,850 340,750 290,600 280,500 310,350 300,250 240,120 200,0" fill="url(#bl2)"/>
<polygon points="1100,2048 1020,1800 1000,1500 960,1250 950,1000 955,750 940,500 955,250 960,0 2048,0 2048,2048" fill="url(#bl)"/>
<polygon points="1100,2048 1020,1800 1000,1500 960,1250 950,1000 955,750 940,500 955,250 960,0 2048,0 2048,2048" fill="url(#bl2)"/>
<g filter="url(#soft2)">
<ellipse cx="1930" cy="300" rx="210" ry="430" fill="#4f2c92" fill-opacity="0.8"/>
<ellipse cx="1990" cy="780" rx="120" ry="220" fill="#6a55a8" fill-opacity="0.6"/>
<ellipse cx="1350" cy="1150" rx="180" ry="230" fill="#7566b3" fill-opacity="0.55"/>
<ellipse cx="1500" cy="950" rx="160" ry="120" fill="#7566b3" fill-opacity="0.45"/>
<ellipse cx="1250" cy="1550" rx="130" ry="150" fill="#8a7fc0" fill-opacity="0.45"/>
<ellipse cx="1900" cy="1500" rx="150" ry="200" fill="#8a7fc0" fill-opacity="0.4"/>
<ellipse cx="130" cy="950" rx="140" ry="250" fill="#8780c0" fill-opacity="0.5"/>
<ellipse cx="1720" cy="1250" rx="40" ry="400" fill="#f0eff7" fill-opacity="0.4"/>
</g>
<g class="db">
<ellipse cx="422" cy="1977" rx="55" ry="45"/><ellipse cx="447" cy="1884" rx="45" ry="60"/><ellipse cx="488" cy="1997" rx="30" ry="30"/>
<ellipse cx="406" cy="1770" rx="35" ry="35"/><ellipse cx="303" cy="1678" rx="60" ry="40"/><ellipse cx="406" cy="1678" rx="60" ry="50"/>
<ellipse cx="385" cy="1585" rx="30" ry="35"/><ellipse cx="25" cy="1390" rx="35" ry="40"/><ellipse cx="179" cy="1338" rx="45" ry="60"/>
<ellipse cx="117" cy="1235" rx="60" ry="70"/><ellipse cx="282" cy="1194" rx="60" ry="80"/><ellipse cx="179" cy="1112" rx="60" ry="80"/>
<ellipse cx="76" cy="1050" rx="50" ry="90"/><ellipse cx="220" cy="947" rx="70" ry="90"/><ellipse cx="344" cy="988" rx="60" ry="100"/>
<ellipse cx="56" cy="824" rx="50" ry="80"/><ellipse cx="117" cy="679" rx="60" ry="60"/><ellipse cx="261" cy="762" rx="80" ry="100"/>
<ellipse cx="323" cy="618" rx="50" ry="70"/><ellipse cx="159" cy="597" rx="50" ry="50"/><ellipse cx="220" cy="515" rx="50" ry="50"/>
<ellipse cx="303" cy="350" rx="50" ry="60"/><ellipse cx="303" cy="226" rx="50" ry="60"/><ellipse cx="261" cy="618" rx="60" ry="60"/>
<ellipse cx="1136" cy="1997" rx="30" ry="30"/><ellipse cx="1023" cy="1709" rx="30" ry="35"/><ellipse cx="1178" cy="1647" rx="45" ry="40"/>
<ellipse cx="1023" cy="1524" rx="50" ry="100"/><ellipse cx="1075" cy="1359" rx="45" ry="45"/><ellipse cx="1003" cy="1266" rx="45" ry="60"/>
<ellipse cx="1085" cy="1246" rx="60" ry="30"/><ellipse cx="1270" cy="1338" rx="90" ry="100"/><ellipse cx="1435" cy="1379" rx="80" ry="120"/>
<ellipse cx="1558" cy="1441" rx="70" ry="160"/><ellipse cx="1641" cy="1585" rx="35" ry="35"/><ellipse cx="1723" cy="1390" rx="30" ry="30"/>
<ellipse cx="1270" cy="1112" rx="70" ry="80"/><ellipse cx="1353" cy="947" rx="70" ry="140"/><ellipse cx="1476" cy="967" rx="80" ry="100"/>
<ellipse cx="1579" cy="988" rx="80" ry="90"/><ellipse cx="1600" cy="1132" rx="60" ry="60"/><ellipse cx="1003" cy="967" rx="50" ry="60"/>
<ellipse cx="982" cy="834" rx="45" ry="60"/><ellipse cx="1106" cy="1091" rx="40" ry="40"/><ellipse cx="962" cy="556" rx="50" ry="60"/>
<ellipse cx="1085" cy="535" rx="60" ry="70"/><ellipse cx="1229" cy="618" rx="100" ry="90"/><ellipse cx="1414" cy="576" rx="70" ry="80"/>
<ellipse cx="1558" cy="576" rx="60" ry="60"/><ellipse cx="1641" cy="576" rx="50" ry="60"/><ellipse cx="1734" cy="453" rx="50" ry="70"/>
<ellipse cx="1517" cy="412" rx="50" ry="60"/><ellipse cx="1558" cy="329" rx="50" ry="100"/><ellipse cx="1003" cy="453" rx="60" ry="80"/>
<ellipse cx="1147" cy="412" rx="70" ry="60"/><ellipse cx="1270" cy="432" rx="70" ry="50"/><ellipse cx="1373" cy="350" rx="60" ry="60"/>
<ellipse cx="982" cy="288" rx="50" ry="60"/><ellipse cx="1106" cy="288" rx="60" ry="60"/><ellipse cx="1229" cy="247" rx="60" ry="80"/>
<ellipse cx="1496" cy="268" rx="40" ry="50"/>
</g>
</g>
</g>
<rect x="114.3" y="1715.3" width="331.6" height="331.4" class="fr"/>
<path class="tm" d="M114.3,2046.7v4.9M195.2,2046.7v4.9M276.2,2046.7v4.9M357.1,2046.7v4.9M438.1,2046.7v4.9M114.3,2046.7h-4.9M114.3,2006.2h-4.9M114.3,1965.8h-4.9M114.3,1925.3h-4.9M114.3,1884.8h-4.9M114.3,1844.4h-4.9M114.3,1803.9h-4.9M114.3,1763.4h-4.9M114.3,1723h-4.9"/>
<g class="tk xt"><text x="114.3" y="2067.4">0</text><text x="195.2" y="2067.4">500</text><text x="276.2" y="2067.4">1000</text><text x="357.1" y="2067.4">1500</text><text x="438.1" y="2067.4">2000</text></g>
<g class="tk yt"><text x="104.6" y="2051.7">0</text><text x="104.6" y="2011.2">250</text><text x="104.6" y="1970.8">500</text><text x="104.6" y="1930.3">750</text><text x="104.6" y="1889.8">1000</text><text x="104.6" y="1849.4">1250</text><text x="104.6" y="1808.9">1500</text><text x="104.6" y="1768.4">1750</text><text x="104.6" y="1728">2000</text></g>
<text x="280.1" y="1707" class="ti">DAPI and cell boundary (fov=76)</text>

<!-- ===== AX11 DAPI fov=1857 ===== -->
<g transform="translate(602.3,2046.7) scale(0.1619,-0.1619)">
<g clip-path="url(#cD)">
<rect x="0" y="0" width="2048" height="2048" fill="#fbfafd"/>
<g>
<ellipse cx="1728" cy="2000" rx="55" ry="60" fill="url(#gB)"/><ellipse cx="1874" cy="2017" rx="55" ry="45" fill="url(#gB)"/>
<ellipse cx="722" cy="1907" rx="45" ry="75" fill="url(#gB)"/><ellipse cx="872" cy="1880" rx="50" ry="70" fill="url(#gB)"/>
<ellipse cx="670" cy="1825" rx="35" ry="60" fill="url(#gL)"/><ellipse cx="193" cy="1809" rx="45" ry="70" fill="url(#gB)"/>
<ellipse cx="1077" cy="1794" rx="60" ry="65" fill="url(#gB)"/><ellipse cx="1677" cy="1773" rx="50" ry="75" fill="url(#gB)"/>
<ellipse cx="1980" cy="1804" rx="45" ry="60" fill="url(#gB)"/><ellipse cx="1953" cy="1701" rx="50" ry="60" fill="url(#gB)"/>
<ellipse cx="28" cy="1577" rx="40" ry="70" fill="url(#gB)"/><ellipse cx="513" cy="1547" rx="40" ry="70" fill="url(#gB)"/>
<ellipse cx="1420" cy="1588" rx="45" ry="90" fill="url(#gB)"/><ellipse cx="1610" cy="1526" rx="55" ry="90" fill="url(#gD)"/>
<ellipse cx="355" cy="1443" rx="50" ry="70" fill="url(#gB)"/><ellipse cx="158" cy="1406" rx="55" ry="70" fill="url(#gB)"/>
<ellipse cx="1006" cy="1386" rx="55" ry="80" fill="url(#gB)"/><ellipse cx="1223" cy="1417" rx="40" ry="50" fill="url(#gL)"/>
<ellipse cx="1160" cy="1295" rx="55" ry="90" fill="url(#gB)"/><ellipse cx="304" cy="1314" rx="40" ry="65" fill="url(#gB)"/>
<ellipse cx="1460" cy="1279" rx="40" ry="60" fill="url(#gL)"/><ellipse cx="655" cy="1138" rx="60" ry="80" fill="url(#gB)"/>
<ellipse cx="20" cy="1165" rx="40" ry="80" fill="url(#gB)"/><ellipse cx="2032" cy="1200" rx="35" ry="75" fill="url(#gB)"/>
<ellipse cx="379" cy="1052" rx="45" ry="90" fill="url(#gL)"/><ellipse cx="986" cy="1080" rx="60" ry="75" fill="url(#gB)"/>
<ellipse cx="1093" cy="1037" rx="45" ry="65" fill="url(#gB)"/><ellipse cx="1649" cy="1109" rx="45" ry="80" fill="url(#gB)"/>
<ellipse cx="1669" cy="994" rx="60" ry="80" fill="url(#gD)"/><ellipse cx="63" cy="965" rx="70" ry="60" fill="url(#gB)"/>
<ellipse cx="1558" cy="948" rx="60" ry="60" fill="url(#gD)"/><ellipse cx="1629" cy="876" rx="45" ry="60" fill="url(#gD)"/>
<ellipse cx="572" cy="924" rx="45" ry="80" fill="url(#gB)"/><ellipse cx="544" cy="814" rx="50" ry="65" fill="url(#gB)"/>
<ellipse cx="1247" cy="814" rx="50" ry="75" fill="url(#gB)"/><ellipse cx="1909" cy="870" rx="40" ry="65" fill="url(#gL)"/>
<ellipse cx="1862" cy="705" rx="55" ry="70" fill="url(#gD)"/><ellipse cx="351" cy="643" rx="55" ry="80" fill="url(#gD)"/>
<ellipse cx="1349" cy="664" rx="45" ry="65" fill="url(#gB)"/><ellipse cx="1448" cy="625" rx="50" ry="75" fill="url(#gB)"/>
<ellipse cx="284" cy="499" rx="55" ry="45" fill="url(#gL)"/><ellipse cx="667" cy="454" rx="50" ry="70" fill="url(#gB)"/>
<ellipse cx="832" cy="450" rx="60" ry="80" fill="url(#gB)"/><ellipse cx="1894" cy="485" rx="50" ry="75" fill="url(#gD)"/>
<ellipse cx="118" cy="419" rx="45" ry="80" fill="url(#gB)"/><ellipse cx="1688" cy="437" rx="35" ry="70" fill="url(#gB)"/>
<ellipse cx="1665" cy="371" rx="45" ry="65" fill="url(#gB)"/><ellipse cx="422" cy="330" rx="45" ry="70" fill="url(#gB)"/>
<ellipse cx="355" cy="258" rx="35" ry="55" fill="url(#gL)"/><ellipse cx="438" cy="210" rx="50" ry="75" fill="url(#gD)"/>
<ellipse cx="655" cy="190" rx="45" ry="75" fill="url(#gD)"/><ellipse cx="1160" cy="217" rx="55" ry="80" fill="url(#gB)"/>
<ellipse cx="1286" cy="268" rx="45" ry="65" fill="url(#gB)"/><ellipse cx="1341" cy="210" rx="45" ry="75" fill="url(#gB)"/>
<ellipse cx="1692" cy="241" rx="45" ry="70" fill="url(#gB)"/><ellipse cx="189" cy="78" rx="45" ry="60" fill="url(#gD)"/>
<ellipse cx="517" cy="31" rx="55" ry="60" fill="url(#gD)"/><ellipse cx="1633" cy="66" rx="25" ry="45" fill="url(#gL)"/>
<ellipse cx="1933" cy="1065" rx="30" ry="60" fill="url(#gL)"/><ellipse cx="1600" cy="1000" rx="30" ry="30" fill="url(#gD)"/>
</g>
<g class="db">
<ellipse cx="1728" cy="2000" rx="67" ry="72"/><ellipse cx="1874" cy="2017" rx="67" ry="57"/><ellipse cx="722" cy="1907" rx="57" ry="87"/>
<ellipse cx="872" cy="1880" rx="62" ry="82"/><ellipse cx="670" cy="1825" rx="47" ry="72"/><ellipse cx="193" cy="1809" rx="57" ry="82"/>
<ellipse cx="1077" cy="1794" rx="72" ry="77"/><ellipse cx="1677" cy="1773" rx="62" ry="87"/><ellipse cx="28" cy="1577" rx="52" ry="82"/>
<ellipse cx="513" cy="1547" rx="52" ry="82"/><ellipse cx="1420" cy="1588" rx="57" ry="102"/><ellipse cx="1610" cy="1526" rx="67" ry="102"/>
<ellipse cx="355" cy="1443" rx="62" ry="82"/><ellipse cx="158" cy="1406" rx="67" ry="82"/><ellipse cx="1006" cy="1386" rx="67" ry="92"/>
<ellipse cx="1223" cy="1417" rx="52" ry="62"/><ellipse cx="1160" cy="1295" rx="67" ry="102"/><ellipse cx="304" cy="1314" rx="52" ry="77"/>
<ellipse cx="1460" cy="1279" rx="52" ry="72"/><ellipse cx="288" cy="1165" rx="40" ry="60"/><ellipse cx="655" cy="1138" rx="72" ry="92"/>
<ellipse cx="379" cy="1052" rx="57" ry="102"/><ellipse cx="986" cy="1080" rx="72" ry="87"/><ellipse cx="1093" cy="1037" rx="57" ry="77"/>
<ellipse cx="1649" cy="1109" rx="57" ry="92"/><ellipse cx="1669" cy="994" rx="72" ry="92"/><ellipse cx="63" cy="965" rx="82" ry="72"/>
<ellipse cx="1412" cy="969" rx="35" ry="45"/><ellipse cx="1558" cy="948" rx="72" ry="72"/><ellipse cx="1629" cy="876" rx="57" ry="72"/>
<ellipse cx="572" cy="924" rx="57" ry="92"/><ellipse cx="544" cy="814" rx="62" ry="77"/><ellipse cx="1247" cy="814" rx="62" ry="87"/>
<ellipse cx="20" cy="845" rx="30" ry="55"/><ellipse cx="1775" cy="893" rx="30" ry="45"/><ellipse cx="351" cy="643" rx="67" ry="92"/>
<ellipse cx="1349" cy="664" rx="57" ry="77"/><ellipse cx="1448" cy="625" rx="62" ry="87"/><ellipse cx="284" cy="499" rx="67" ry="57"/>
<ellipse cx="533" cy="520" rx="25" ry="40"/><ellipse cx="667" cy="454" rx="62" ry="82"/><ellipse cx="832" cy="450" rx="72" ry="92"/>
<ellipse cx="118" cy="419" rx="57" ry="92"/><ellipse cx="1688" cy="437" rx="47" ry="82"/><ellipse cx="1665" cy="371" rx="57" ry="77"/>
<ellipse cx="422" cy="330" rx="57" ry="82"/><ellipse cx="355" cy="258" rx="47" ry="67"/><ellipse cx="438" cy="210" rx="62" ry="87"/>
<ellipse cx="1160" cy="217" rx="67" ry="92"/><ellipse cx="1286" cy="268" rx="57" ry="77"/><ellipse cx="1692" cy="241" rx="57" ry="82"/>
<ellipse cx="1110" cy="1460" rx="15" ry="35"/>
</g>
</g>
</g>
<rect x="602.3" y="1715.3" width="331.6" height="331.4" class="fr"/>
<path class="tm" d="M602.3,2046.7v4.9M683.2,2046.7v4.9M764.2,2046.7v4.9M845.1,2046.7v4.9M926.1,2046.7v4.9M602.3,2046.7h-4.9M602.3,2006.2h-4.9M602.3,1965.8h-4.9M602.3,1925.3h-4.9M602.3,1884.8h-4.9M602.3,1844.4h-4.9M602.3,1803.9h-4.9M602.3,1763.4h-4.9M602.3,1723h-4.9"/>
<g class="tk xt"><text x="602.3" y="2067.4">0</text><text x="683.2" y="2067.4">500</text><text x="764.2" y="2067.4">1000</text><text x="845.1" y="2067.4">1500</text><text x="926.1" y="2067.4">2000</text></g>
<g class="tk yt"><text x="592.6" y="2051.7">0</text><text x="592.6" y="2011.2">250</text><text x="592.6" y="1970.8">500</text><text x="592.6" y="1930.3">750</text><text x="592.6" y="1889.8">1000</text><text x="592.6" y="1849.4">1250</text><text x="592.6" y="1808.9">1500</text><text x="592.6" y="1768.4">1750</text><text x="592.6" y="1728">2000</text></g>
<text x="768.1" y="1707" class="ti">DAPI and cell boundary (fov=1857)</text>

<!-- ===== AX12 DAPI fov=1697 ===== -->
<g transform="translate(1090.3,2046.7) scale(0.1619,-0.1619)">
<g clip-path="url(#cD)">
<rect x="0" y="0" width="2048" height="2048" fill="#f8f7fb"/>
<ellipse cx="1546" cy="2000" rx="45" ry="70" fill="url(#gD)"/>
<ellipse cx="1688" cy="2010" rx="50" ry="60" fill="url(#gD)"/>
<ellipse cx="1933" cy="1980" rx="75" ry="85" fill="url(#gD)"/>
<ellipse cx="1995" cy="2030" rx="45" ry="45" fill="url(#gB)"/>
<ellipse cx="1254" cy="1928" rx="45" ry="60" fill="url(#gL)"/>
<ellipse cx="1341" cy="1645" rx="45" ry="70" fill="url(#gD)"/>
<g class="db">
<ellipse cx="1546" cy="2000" rx="57" ry="82"/><ellipse cx="1688" cy="2010" rx="62" ry="72"/><ellipse cx="1254" cy="1928" rx="57" ry="72"/>
<ellipse cx="1341" cy="1645" rx="57" ry="82"/>
<ellipse cx="47" cy="1526" rx="40" ry="90"/><ellipse cx="110" cy="1010" rx="60" ry="90"/><ellipse cx="59" cy="825" rx="40" ry="100"/>
<ellipse cx="98" cy="680" rx="55" ry="70"/><ellipse cx="118" cy="577" rx="50" ry="100"/><ellipse cx="1578" cy="1515" rx="50" ry="80"/>
<ellipse cx="1361" cy="1433" rx="60" ry="110"/><ellipse cx="1282" cy="1433" rx="40" ry="60"/><ellipse cx="1676" cy="1083" rx="50" ry="75"/>
<ellipse cx="1578" cy="227" rx="40" ry="75"/><ellipse cx="1755" cy="330" rx="60" ry="100"/><ellipse cx="1834" cy="268" rx="60" ry="80"/>
<ellipse cx="1790" cy="250" rx="50" ry="60"/><ellipse cx="177" cy="247" rx="20" ry="50"/><ellipse cx="30" cy="900" rx="30" ry="60"/>
</g>
</g>
</g>
<rect x="1090.3" y="1715.3" width="331.6" height="331.4" class="fr"/>
<path class="tm" d="M1090.3,2046.7v4.9M1171.2,2046.7v4.9M1252.2,2046.7v4.9M1333.1,2046.7v4.9M1414.1,2046.7v4.9M1090.3,2046.7h-4.9M1090.3,2006.2h-4.9M1090.3,1965.8h-4.9M1090.3,1925.3h-4.9M1090.3,1884.8h-4.9M1090.3,1844.4h-4.9M1090.3,1803.9h-4.9M1090.3,1763.4h-4.9M1090.3,1723h-4.9"/>
<g class="tk xt"><text x="1090.3" y="2067.4">0</text><text x="1171.2" y="2067.4">500</text><text x="1252.2" y="2067.4">1000</text><text x="1333.1" y="2067.4">1500</text><text x="1414.1" y="2067.4">2000</text></g>
<g class="tk yt"><text x="1080.6" y="2051.7">0</text><text x="1080.6" y="2011.2">250</text><text x="1080.6" y="1970.8">500</text><text x="1080.6" y="1930.3">750</text><text x="1080.6" y="1889.8">1000</text><text x="1080.6" y="1849.4">1250</text><text x="1080.6" y="1808.9">1500</text><text x="1080.6" y="1768.4">1750</text><text x="1080.6" y="1728">2000</text></g>
<text x="1256.1" y="1707" class="ti">DAPI and cell boundary (fov=1697)</text>
</svg>
</body></html>
